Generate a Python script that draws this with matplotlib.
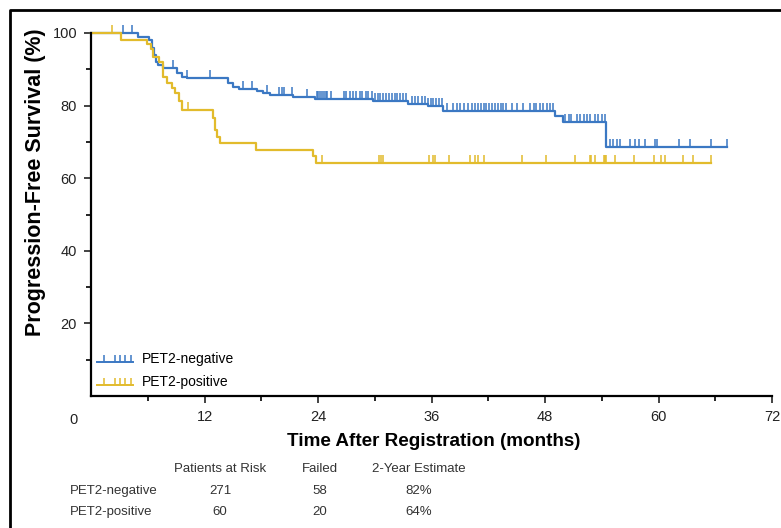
import numpy as np
import matplotlib
matplotlib.use("Agg")
import matplotlib.pyplot as plt
from matplotlib.legend_handler import HandlerBase
from matplotlib.lines import Line2D

# Kaplan-Meier steps: time of each drop (months) and PFS (%) after it
neg_times = [0, 5.0, 6.1, 6.4, 6.7, 6.9, 7.1, 7.6, 9.1, 9.6, 10.1, 14.5, 15.0, 15.6,
             17.5, 18.2, 18.9, 21.4, 23.7, 29.8, 33.5, 35.6, 37.2, 49.1, 49.9, 54.5]
neg_surv = [100, 99.0, 98.0, 96.0, 94.0, 92.0, 91.2, 90.3, 88.9, 88.0, 87.5, 86.2, 85.2, 84.5,
            83.9, 83.4, 82.9, 82.3, 81.8, 81.2, 80.5, 79.8, 78.6, 77.0, 75.6, 68.5]
neg_end = 67.2
neg_censor = [3.4, 4.3, 8.7, 10.2, 12.6, 16.1, 17.0, 18.6, 19.9, 20.2, 20.4, 21.2, 22.8,
              23.9, 24.0, 24.2, 24.4, 24.6, 24.8, 25.0, 25.4, 26.7, 27.0, 27.4, 27.7, 28.0,
              28.4, 28.7, 29.1, 29.3, 29.7, 30.0, 30.3, 30.6, 30.9, 31.2, 31.5, 31.8, 32.1,
              32.4, 32.7, 33.0, 33.3, 33.9, 34.3, 34.6, 35.0, 35.3, 35.6, 35.9, 36.2, 36.5,
              36.8, 37.1, 37.6, 38.3, 38.7, 39.0, 39.4, 39.9, 40.3, 40.6, 40.9, 41.2, 41.5,
              41.8, 42.1, 42.4, 42.7, 43.0, 43.3, 43.6, 43.9, 44.5, 45.0, 45.7, 46.4, 46.8,
              47.1, 47.5, 47.8, 48.2, 48.5, 48.8, 50.1, 50.5, 50.8, 51.4, 51.7, 52.1, 52.4,
              52.8, 53.3, 53.6, 54.0, 54.3, 54.9, 55.2, 55.6, 55.9, 57.0, 57.5, 57.9, 58.6,
              59.6, 59.8, 62.2, 63.3, 65.6, 67.2]

pos_times = [0, 3.2, 5.9, 6.3, 6.6, 7.2, 7.6, 8.0, 8.6, 8.9, 9.3, 9.6, 12.9, 13.1, 13.3,
             13.6, 17.4, 23.5, 23.8]
pos_surv = [100, 98.2, 97.0, 95.5, 93.5, 92.0, 88.0, 86.2, 84.8, 83.4, 81.3, 78.8, 76.6,
            73.3, 71.4, 69.7, 67.8, 66.0, 64.2]
pos_end = 65.6
pos_censor = [2.2, 10.3, 24.4, 30.5, 30.7, 30.9, 35.7, 36.2, 36.4, 37.8, 40.1, 40.6, 40.9,
              41.5, 45.6, 48.1, 51.2, 52.8, 52.9, 53.3, 54.2, 54.3, 54.5, 55.4, 57.4, 59.5,
              60.3, 60.7, 62.6, 63.7, 65.6]

groups = ["PET2-negative", "PET2-positive"]
at_risk = [271, 60]
failed = [58, 20]
two_year = ["82%", "64%"]

BLUE = "#3b78c3"
GOLD = "#e2bb2c"
plt.rcParams["font.family"] = ["Liberation Sans", "DejaVu Sans"]


class CensorHandler(HandlerBase):
    # legend key: line with a few censor ticks on it
    def create_artists(self, legend, orig_handle, xdescent, ydescent, width, height,
                       fontsize, trans):
        x0 = -xdescent
        y0 = -ydescent + 0.1 * height
        col = orig_handle.get_color()
        line = Line2D([x0, x0 + width], [y0, y0], color=col, lw=1.4, transform=trans)
        xs = [x0 + f * width for f in (0.19, 0.49, 0.63, 0.77, 0.93)]
        ticks = Line2D(xs, [y0] * len(xs), ls="none", marker=2, ms=5, mew=1.1,
                       color=col, transform=trans)
        return [line, ticks]


def km_curve(ax, times, surv, end, censor, color, label):
    t = np.append(times, end)
    s = np.append(surv, surv[-1])
    h, = ax.step(t, s, where="post", color=color, lw=1.6, label=label, clip_on=False)
    idx = np.searchsorted(times, censor, side="right") - 1
    ax.plot(censor, np.array(surv)[idx], ls="none", marker=2, ms=5.5, mew=1.1,
            color=color, clip_on=False)
    return h


fig = plt.figure(figsize=(7.81, 5.28), dpi=100)
ax = fig.add_axes([91 / 781, 132 / 528, 681 / 781, 363 / 528])

h_neg = km_curve(ax, neg_times, neg_surv, neg_end, neg_censor, BLUE, groups[0])
h_pos = km_curve(ax, pos_times, pos_surv, pos_end, pos_censor, GOLD, groups[1])

ax.set_xlim(0, 72)
ax.set_ylim(0, 100)
for side in ("top", "right"):
    ax.spines[side].set_visible(False)
for side in ("left", "bottom"):
    ax.spines[side].set_linewidth(1.6)

ax.set_xticks(np.arange(12, 73, 12))
ax.set_xticks(np.arange(6, 73, 12), minor=True)
ax.set_yticks(np.arange(20, 101, 20))
ax.set_yticks(np.arange(10, 100, 20), minor=True)
ax.tick_params(which="major", length=5, width=1.2, labelsize=10.5, pad=5, colors="#222222")
ax.tick_params(which="minor", length=3.5, width=1.2)
ax.text(-1.8, -4.6, "0", ha="center", va="top", fontsize=10.5, color="#222222")

ax.set_xlabel("Time After Registration (months)", weight="bold", fontsize=13.6,
              va="center")
ax.xaxis.set_label_coords(0.504, -0.124)
ax.set_ylabel("Progression-Free Survival (%)", weight="bold", fontsize=15.5,
              va="center")
ax.yaxis.set_label_coords(-0.082, 0.59)

ax.legend([h_neg, h_pos], groups, loc="lower left", bbox_to_anchor=(0.009, 0.02),
          frameon=False, borderpad=0, borderaxespad=0, handlelength=2.6,
          handletextpad=0.6, labelspacing=0.6, fontsize=10,
          handler_map={h_neg: CensorHandler(), h_pos: CensorHandler()})

# numbers table under the x axis
tc = "#333333"
fig.text(220 / 781, 1 - 469 / 528, "Patients at Risk", ha="center", va="center",
         fontsize=9.5, color=tc)
fig.text(320 / 781, 1 - 469 / 528, "Failed", ha="center", va="center", fontsize=9.5, color=tc)
fig.text(419 / 781, 1 - 469 / 528, "2-Year Estimate", ha="center", va="center",
         fontsize=9.5, color=tc)
for i, g in enumerate(groups):
    y = 1 - (491 + 20.7 * i) / 528
    fig.text(70 / 781, y, g, ha="left", va="center", fontsize=9.5, color=tc)
    fig.text(220 / 781, y, str(at_risk[i]), ha="center", va="center", fontsize=9.5, color=tc)
    fig.text(320 / 781, y, str(failed[i]), ha="center", va="center", fontsize=9.5, color=tc)
    fig.text(419 / 781, y, two_year[i], ha="center", va="center", fontsize=9.5, color=tc)

# outer frame (left and top edges)
fig.add_artist(Line2D([10 / 781, 10 / 781, 1.0], [0.0, 1 - 10 / 528, 1 - 10 / 528],
                      color="black", lw=2, transform=fig.transFigure))

fig.savefig("out.png", dpi=100)
